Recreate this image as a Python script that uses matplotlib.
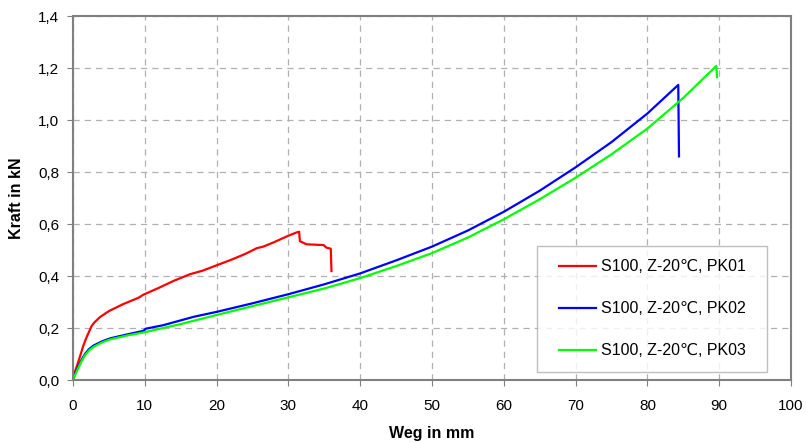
import matplotlib
matplotlib.use("Agg")
import matplotlib.pyplot as plt
from matplotlib.ticker import FuncFormatter
from matplotlib.legend_handler import HandlerLine2D

plt.rcParams['font.family'] = ['Liberation Sans', 'DejaVu Sans']

# PK01 (red)
pk01_x = [0, 0.5, 1.0, 1.44, 1.9, 2.6, 3.0, 3.76, 5.0, 7.0, 9.1, 9.8, 12.0, 14.0, 16.3, 18.0, 20.0, 22.0,
          24.0, 25.6, 26.5, 28.0, 30.0, 31.2, 31.5, 31.6, 32.5, 34.0, 34.9, 35.3, 35.9, 36.0]
pk01_y = [0.01, 0.05, 0.093, 0.132, 0.165, 0.208, 0.222, 0.242, 0.265, 0.292, 0.316, 0.328, 0.355, 0.381, 0.407, 0.42, 0.441, 0.462,
          0.485, 0.507, 0.513, 0.53, 0.555, 0.568, 0.570, 0.534, 0.522, 0.52, 0.519, 0.509, 0.505, 0.419]

# PK02 (blue)
pk02_x = [0, 0.3, 0.74, 1.2, 1.67, 2.2, 2.83, 4.0, 5.15, 7.5, 9.8, 10.1, 12.6, 16.8, 20.0, 25.0, 30.0, 35.0,
          40.0, 45.0, 50.0, 55.0, 60.0, 65.0, 70.0, 75.0, 80.0, 84.3, 84.4]
pk02_y = [0.0, 0.025, 0.052, 0.078, 0.1, 0.118, 0.132, 0.148, 0.16, 0.175, 0.189, 0.197, 0.211, 0.243, 0.262, 0.295, 0.33, 0.368,
          0.41, 0.46, 0.513, 0.575, 0.647, 0.728, 0.818, 0.915, 1.025, 1.135, 0.86]

# PK03 (green)
pk03_x = [0, 0.3, 0.74, 1.2, 1.67, 2.2, 2.83, 4.0, 5.15, 7.5, 10.0, 15.0, 20.0, 25.0, 30.0, 35.0,
          40.0, 45.0, 50.0, 55.0, 60.0, 65.0, 70.0, 75.0, 80.0, 85.0, 89.6, 89.7]
pk03_y = [0.0, 0.02, 0.047, 0.073, 0.095, 0.113, 0.127, 0.144, 0.156, 0.171, 0.184, 0.215, 0.25, 0.284, 0.318, 0.352,
          0.392, 0.438, 0.488, 0.548, 0.618, 0.695, 0.778, 0.868, 0.967, 1.085, 1.208, 1.165]

labels = ["S100, Z-20\u2103, PK01", "S100, Z-20\u2103, PK02", "S100, Z-20\u2103, PK03"]

fig = plt.figure(figsize=(8.06, 4.43), dpi=100)
ax = fig.add_axes([73 / 806, 63 / 443, 718 / 806, 364 / 443])

ax.plot(pk01_x, pk01_y, color="#ff0000", lw=1.6, label=labels[0])
ax.plot(pk02_x, pk02_y, color="#0000ff", lw=1.6, label=labels[1])
ax.plot(pk03_x, pk03_y, color="#00ff00", lw=1.6, label=labels[2])

ax.set_xlim(0, 100)
ax.set_ylim(0, 1.4)
ax.set_xticks(range(0, 101, 10))
ax.set_yticks([i * 0.2 for i in range(8)])
ax.yaxis.set_major_formatter(FuncFormatter(lambda v, p: f"{v:.1f}".replace(".", ",")))
ax.tick_params(labelsize=11, color="#808080", length=4)
ax.tick_params(axis="x", pad=10)
ax.tick_params(axis="y", pad=6)
ax.grid(True, color="#b0b0b0", linestyle=(0, (5, 4)), lw=0.9)
for s in ax.spines.values():
    s.set_color("#808080")
    s.set_linewidth(1.5)

ax.set_xlabel("Weg in mm", fontsize=11.5, fontweight="bold", labelpad=9)
ax.set_ylabel("Kraft in kN", fontsize=11.5, fontweight="bold", labelpad=10)

leg = ax.legend(loc="lower left", bbox_to_anchor=(537 / 806, 71 / 443, 230 / 806, 127 / 443),
                bbox_transform=fig.transFigure, mode="expand",
                fontsize=11.5, frameon=True, fancybox=False, edgecolor="#b0b0b0",
                labelspacing=1.7, handlelength=2.87, handletextpad=0.3,
                borderpad=0.85, borderaxespad=0,
                handler_map={plt.Line2D: HandlerLine2D(xpad=0.5)})
leg.get_frame().set_linewidth(1.0)

fig.savefig("out.png", dpi=100)
